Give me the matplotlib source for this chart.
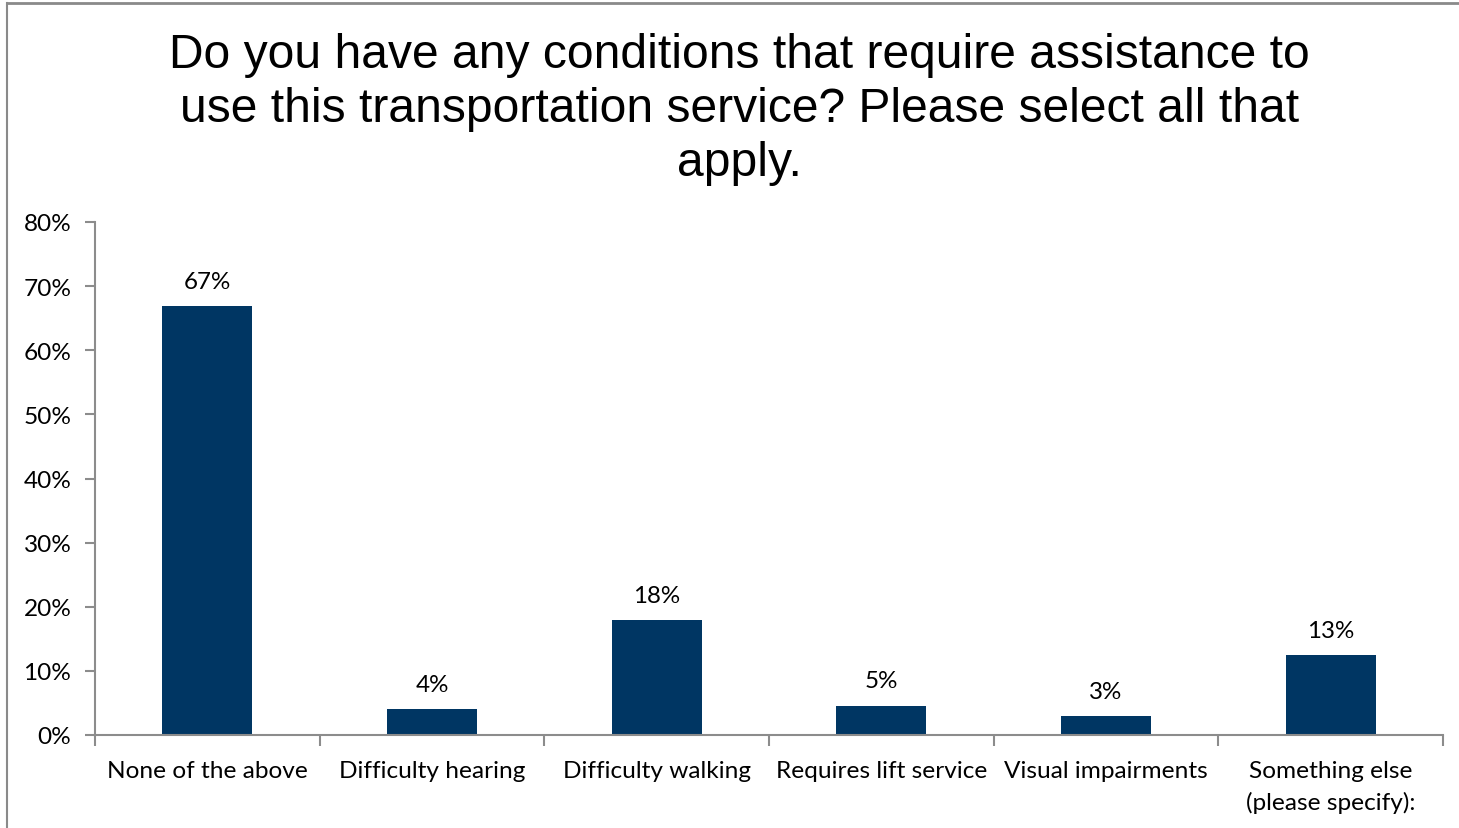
import matplotlib
matplotlib.use("Agg")
import matplotlib.pyplot as plt
from matplotlib.lines import Line2D
from matplotlib.ticker import FuncFormatter, MultipleLocator

categories = ["None of the above", "Difficulty hearing", "Difficulty walking",
              "Requires lift service", "Visual impairments", "Something else\n(please specify):"]
values = [0.669, 0.041, 0.179, 0.046, 0.029, 0.125]
labels = ["67%", "4%", "18%", "5%", "3%", "13%"]
title = "Do you have any conditions that require assistance to\nuse this transportation service? Please select all that\napply."

bar_color = "#003663"
axis_color = "#8c8c8c"
label_font = ["Lato", "DejaVu Sans"]

W, H = 1459, 829
fig = plt.figure(figsize=(W / 100, H / 100), dpi=100)
fig.patch.set_facecolor("white")
fig.lines.append(Line2D([7 / W, 1], [1 - 4 / H, 1 - 4 / H], transform=fig.transFigure,
                        color="#8a8a8a", linewidth=2))
fig.lines.append(Line2D([7 / W, 7 / W], [0, 1 - 4 / H], transform=fig.transFigure,
                        color="#8a8a8a", linewidth=1.5))

ax = fig.add_axes([95 / W, 1 - 736 / H, (1443 - 95) / W, (736 - 223) / H])
x = list(range(len(categories)))
ax.bar(x, values, width=0.4, color=bar_color)
ax.set_xlim(-0.5, len(categories) - 0.5)
ax.set_ylim(0, 0.8)
ax.yaxis.set_major_locator(MultipleLocator(0.1))
ax.yaxis.set_major_formatter(FuncFormatter(lambda v, p: f"{v*100:.0f}%"))

for xi, v, l in zip(x, values, labels):
    ax.text(xi, v + 0.022, l, ha="center", va="bottom", fontsize=17.4, family=label_font, color="black")

for s in ["top", "right"]:
    ax.spines[s].set_visible(False)
for s in ["left", "bottom"]:
    ax.spines[s].set_color(axis_color)
    ax.spines[s].set_linewidth(1.5)

ax.set_xticks([i - 0.5 for i in range(len(categories) + 1)], minor=False)
ax.set_xticklabels([])
ax.set_xticks(x, minor=True)
ax.set_xticklabels(categories, minor=True, fontsize=17.6, family=label_font, linespacing=1.55)
ax.tick_params(axis="x", which="major", length=8, width=1.5, color=axis_color, direction="out")
ax.tick_params(axis="x", which="minor", length=0, pad=18)
ax.tick_params(axis="y", length=7, width=1.5, color=axis_color, labelsize=17.6, pad=10)
for t in ax.get_yticklabels():
    t.set_family(label_font)

fig.text(0.507, 1 - 33 / H, title, ha="center", va="top", fontsize=34.6,
         family=["Liberation Sans", "DejaVu Sans"], linespacing=1.25)

fig.savefig("out.png", dpi=100, facecolor="white")
